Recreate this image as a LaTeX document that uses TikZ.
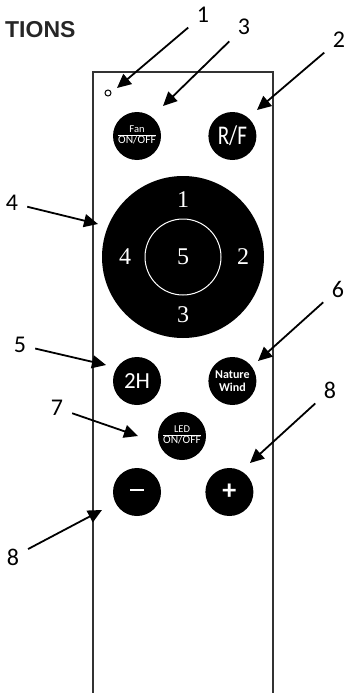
\documentclass[tikz,border=0pt]{standalone}
\usepackage{fontspec}
\setmainfont{Carlito}
\newfontfamily\padfont{Liberation Serif}
\newfontfamily\headfont{Liberation Sans}
\newfontfamily\btnfont[FakeStretch=0.78]{Carlito}
\usetikzlibrary{arrows.meta,positioning,calc}

\newcommand{\onoff}[1]{{\renewcommand{\arraystretch}{0.8}\setlength{\arrayrulewidth}{0.7pt}%
  \begin{tabular}{@{}c@{}}\fontsize{10.5}{10.5}\selectfont #1\\\hline ON/OFF\end{tabular}}}

\begin{document}
\begin{tikzpicture}[x=1pt,y=-1pt,>=Stealth,
    btn/.style={circle,fill=black,text=white,minimum size=48pt,inner sep=0pt},
    padnum/.style={text=white,font=\padfont\fontsize{24}{24}\selectfont},
    callout/.style={font=\fontsize{24}{24}\selectfont,inner sep=7pt},
    pointer/.style={-{Triangle[length=14pt,width=13pt]},line width=1.8pt,shorten <=2pt}]
    \useasboundingbox (0,0) rectangle (345,693);
    \clip (0,0) rectangle (345,693);
    % heading, cut at the page edge
    \node[anchor=east,font=\headfont\bfseries\fontsize{23}{23}\selectfont,text=black!85] (head) at (79,30) {TIONS};
    % remote body
    \draw[line width=1.4pt,black!80] (93,700) -- (93,72) -- (273,72) -- (273,700);
    \node[circle,draw,line width=1pt,minimum size=6pt,inner sep=0pt] (led) at (108,93) {};
    % top buttons
    \node[btn] (fan) at (137,136) {\fontsize{11.5}{11.5}\selectfont\onoff{Fan}};
    \node[btn,right=47pt of fan] (rf) {\btnfont\fontsize{27}{27}\selectfont R/F};
    % direction pad
    \node[circle,fill=black,minimum size=162pt] (pad) at (183,257) {};
    \node[circle,draw=white,line width=1pt,minimum size=76pt,padnum] (ok) at (pad) {5};
    \node[padnum] (up) at ($(pad)+(0,-57)$) {1};
    \node[padnum] (right) at ($(pad)+(60,0)$) {2};
    \node[padnum] (down) at ($(pad)+(0,58)$) {3};
    \node[padnum] (left) at ($(pad)+(-58,0)$) {4};
    % lower buttons
    \node[btn] (timer) at (137,381) {\fontsize{23}{23}\selectfont 2H};
    \node[btn,right=47pt of timer,align=center,font=\fontsize{12}{12.5}\selectfont\bfseries] (nature) {Nature\\Wind};
    \node[btn] (light) at (182,436) {\fontsize{11.5}{11.5}\selectfont\onoff{LED}};
    \node[btn] (minus) at (137,492) {\rule[4pt]{14pt}{2.4pt}};
    \node[btn,right=44pt of minus] (plus) {\fontsize{28}{28}\selectfont\bfseries +};
    % callouts
    \node[callout] (n1) at (203,15) {1};
    \node[callout] (n3) at (244,27) {3};
    \node[callout] (n2) at (339,40) {2};
    \node[callout] (n4) at (12,203) {4};
    \node[callout] (n5) at (20,345) {5};
    \node[callout] (n6) at (338,289) {6};
    \node[callout] (n7) at (57,408) {7};
    \node[callout] (n8a) at (330,390) {8};
    \node[callout] (n8b) at (13,557) {8};
    \coordinate (t1) at (117,88);
    \coordinate (t3) at (163,106);
    \coordinate (t2) at (257,110);
    \coordinate (t4) at (98,224);
    \coordinate (t5) at (106,365);
    \coordinate (t6) at (258,361);
    \coordinate (t7) at (138,436);
    \coordinate (t8a) at (250,463);
    \coordinate (t8b) at (102,510);
    \draw[pointer] (n1) -- (t1);
    \draw[pointer] (n3) -- (t3);
    \draw[pointer] (n2) -- (t2);
    \draw[pointer] (n4) -- (t4);
    \draw[pointer] (n5) -- (t5);
    \draw[pointer] (n6) -- (t6);
    \draw[pointer] (n7) -- (t7);
    \draw[pointer] (n8a) -- (t8a);
    \draw[pointer] (n8b) -- (t8b);
\end{tikzpicture}
\end{document}
